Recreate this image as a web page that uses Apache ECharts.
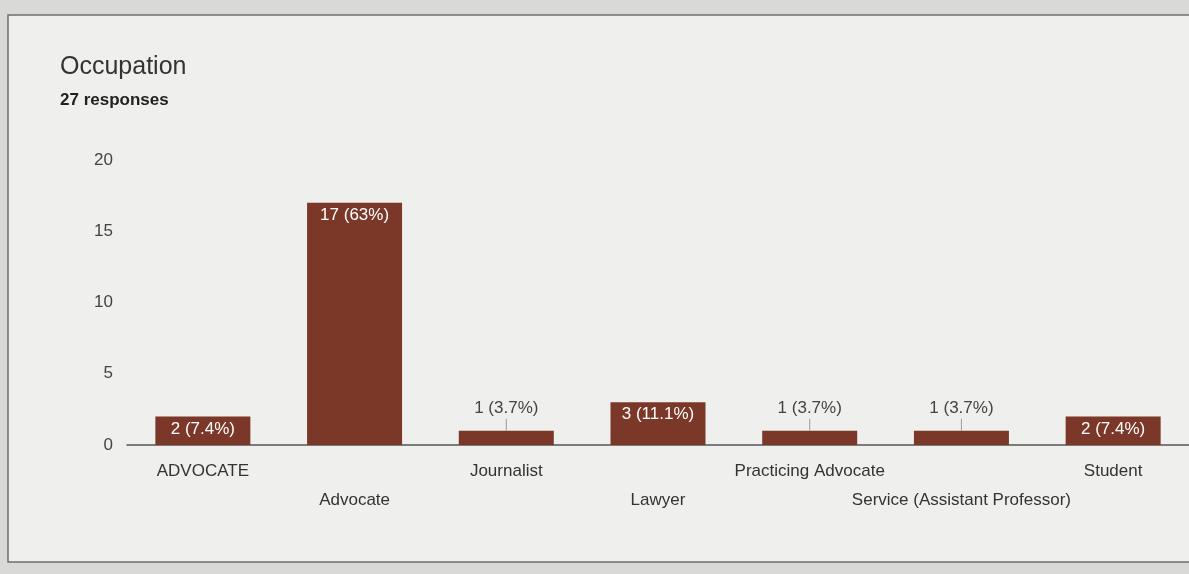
<!DOCTYPE html>
<html><head><meta charset="utf-8">
<script src="https://cdn.jsdelivr.net/npm/echarts@6/dist/echarts.min.js"></script>
<style>html,body{margin:0;padding:0;background:#d9d9d7;}#c{width:1189px;height:574px;}</style>
</head><body><div id="c"></div>
<script>
const categories = ['ADVOCATE','Advocate','Journalist','Lawyer','Practicing Advocate','Service (Assistant Professor)','Student'];
const counts = [2,17,1,3,1,1,2];
const percents = ['7.4','63','3.7','11.1','3.7','3.7','7.4'];
const yTicks = [0,5,10,15,20];

const FONT = 'Liberation Sans, Arial, sans-serif';
const chart = echarts.init(document.getElementById('c'));
const data = counts.map((v,i)=>{
  const txt = v + ' (' + percents[i] + '%)';
  if (v < 2) {
    return {value:v, label:{show:true, position:'top', distance:0,
      formatter:'{t|'+txt+'}\n{l|}',
      rich:{t:{color:'#444',fontSize:17,fontFamily:FONT,lineHeight:20,align:'center'},
            l:{width:1,height:12,backgroundColor:'#9a9a9a',align:'center'}}}};
  }
  return {value:v, label:{show:true, position:'insideTop', distance:4, color:'#fff', fontSize:17, fontFamily:FONT,
     formatter: txt}};
});
chart.setOption({
  backgroundColor:'#d9d9d7',
  animation:false,
  graphic:[
    {type:'rect', shape:{x:8,y:15,width:1200,height:547}, style:{fill:'#efefed', stroke:'#6f6f6f', lineWidth:1.5}, z:-10},
    {type:'text', left:60, top:55, style:{text:'Occupation', fontSize:25, fill:'#333', fontFamily:FONT}},
    {type:'text', left:60, top:92, style:{text:'27 responses', fontSize:17, fill:'#222', fontFamily:FONT, fontWeight:'bold'}}
  ],
  grid:{left:127, right:0, top:160, bottom:129},
  xAxis:{type:'category', data:categories,
    axisLine:{lineStyle:{color:'#555', width:1.5}}, axisTick:{show:false},
    axisLabel:{interval:0, color:'#333', fontSize:17, fontFamily:FONT, margin:12, lineHeight:29,
      formatter:(v,i)=> i%2 ? '\n'+v : v}},
  yAxis:{type:'value', min:0, max:20, interval:5,
    axisLine:{show:false}, axisTick:{show:false}, splitLine:{show:false},
    axisLabel:{color:'#444', fontSize:17, fontFamily:FONT, margin:14,
      formatter:v=> yTicks.includes(v) ? String(v) : ''}},
  series:[{type:'bar', data:data, barWidth:95, itemStyle:{color:'#7b3828'}}]
});
</script></body></html>
